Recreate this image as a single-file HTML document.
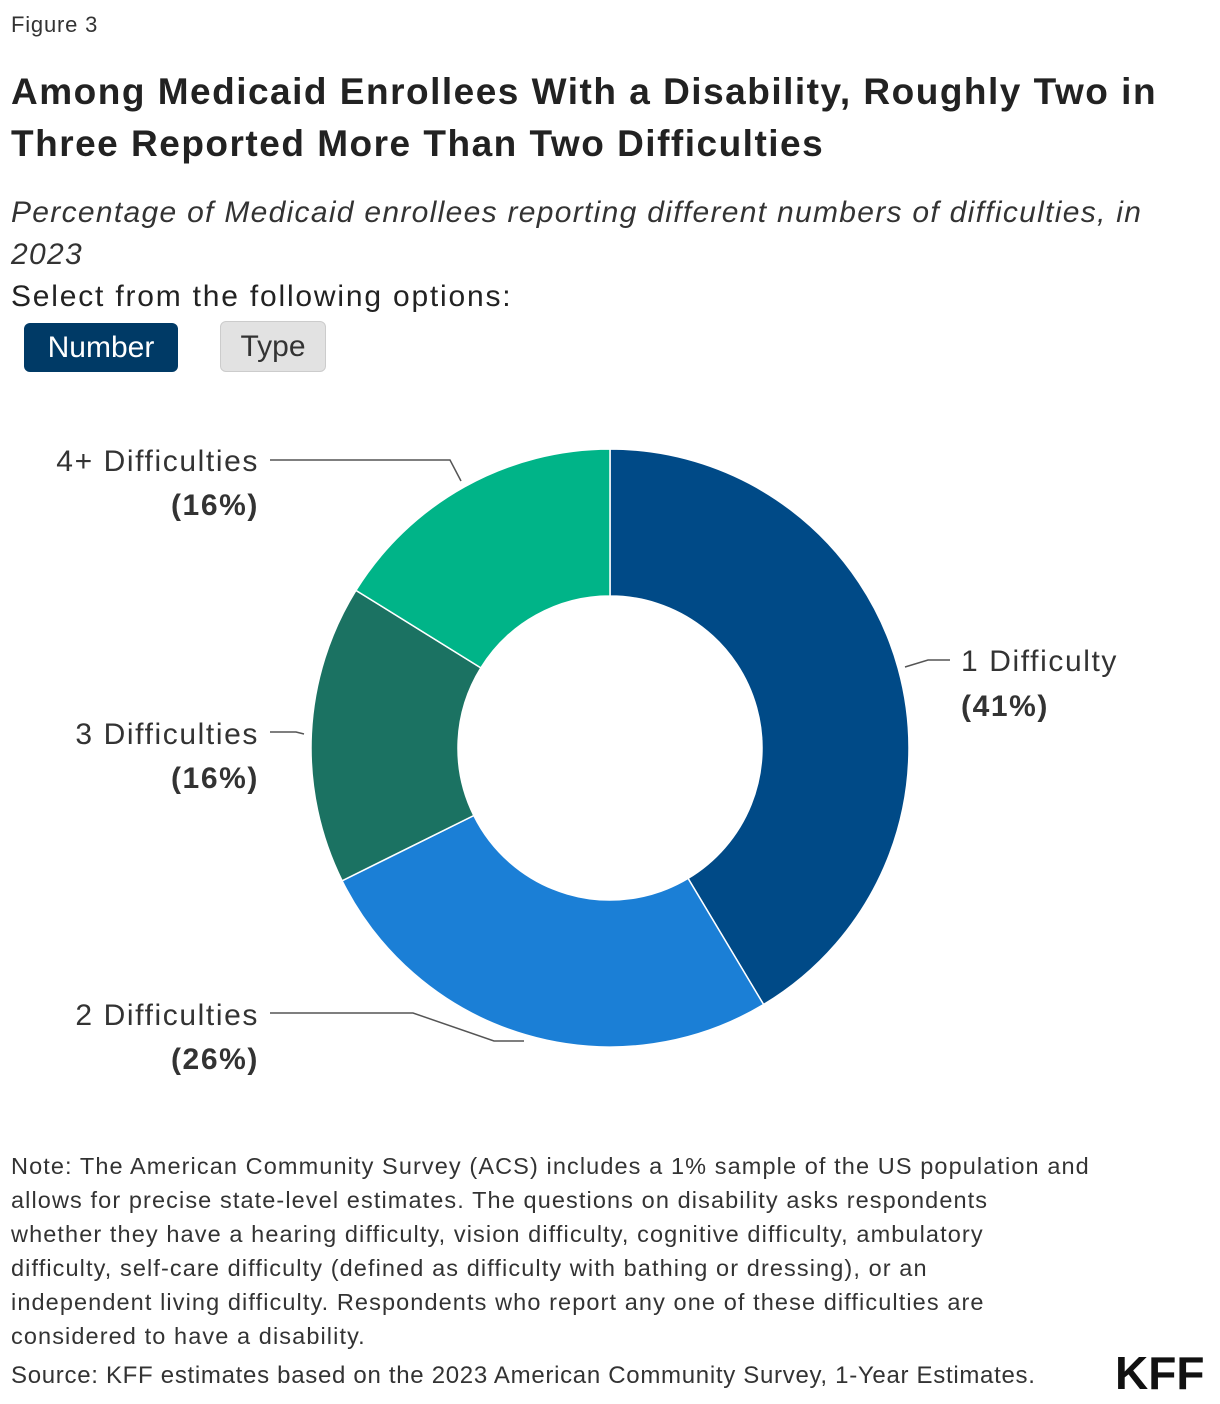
<!DOCTYPE html>
<html><head><meta charset="utf-8">
<style>
body{margin:0;width:1220px;height:1404px;background:#fff;font-family:"Liberation Sans",sans-serif;color:#222;position:relative;overflow:hidden}
.abs{position:absolute;white-space:nowrap}
</style></head><body>
<div class="abs" style="left:11px;top:12px;font-size:22px;color:#333;letter-spacing:0.8px">Figure 3</div>
<div class="abs" style="left:11px;top:66px;font-size:37px;font-weight:bold;line-height:52px;letter-spacing:1.5px">Among Medicaid Enrollees With a Disability, Roughly Two in<br>Three Reported More Than Two Difficulties</div>
<div class="abs" style="left:11px;top:192px;font-size:30px;font-style:italic;line-height:42px;color:#333;letter-spacing:1.3px">Percentage of Medicaid enrollees reporting different numbers of difficulties, in<br>2023</div>
<div class="abs" style="left:11px;top:280px;font-size:30px;color:#222;letter-spacing:1.8px">Select from the following options:</div>
<div class="abs" style="left:24px;top:323px;width:154px;height:49px;background:#003a66;border-radius:6px;color:#fff;font-size:30px;line-height:49px;text-align:center">Number</div>
<div class="abs" style="left:220px;top:321px;width:106px;height:51px;background:#e2e2e2;border:1px solid #ccc;box-sizing:border-box;border-radius:6px;color:#333;font-size:30px;line-height:49px;text-align:center">Type</div>
<svg class="abs" style="left:0;top:0" width="1220" height="1404">
<g id="slices"></g>
<g fill="none" stroke="#555" stroke-width="1.5">
<polyline points="270,460 450,460 461,481"/>
<polyline points="950,660 928,660 905,667"/>
<polyline points="270,732 296,732 304,734"/>
<polyline points="270,1013 413,1013 494,1041 524,1041"/>
</g>
<g font-size="30" fill="#333" font-family="Liberation Sans,sans-serif" letter-spacing="1.6">
<text x="259" y="471" text-anchor="end">4+ Difficulties</text>
<text x="259" y="515" text-anchor="end" font-weight="bold">(16%)</text>
<text x="961" y="671">1 Difficulty</text>
<text x="961" y="716" font-weight="bold">(41%)</text>
<text x="259" y="744" text-anchor="end">3 Difficulties</text>
<text x="259" y="788" text-anchor="end" font-weight="bold">(16%)</text>
<text x="259" y="1025" text-anchor="end">2 Difficulties</text>
<text x="259" y="1069" text-anchor="end" font-weight="bold">(26%)</text>
</g>
</svg>
<div class="abs" style="left:11px;top:1149px;font-size:23.5px;line-height:34px;color:#333;letter-spacing:1.1px">Note: The American Community Survey (ACS) includes a 1% sample of the US population and<br>allows for precise state-level estimates. The questions on disability asks respondents<br>whether they have a hearing difficulty, vision difficulty, cognitive difficulty, ambulatory<br>difficulty, self-care difficulty (defined as difficulty with bathing or dressing), or an<br>independent living difficulty. Respondents who report any one of these difficulties are<br>considered to have a disability.</div>
<div class="abs" style="left:11px;top:1362px;font-size:24px;color:#333;letter-spacing:0.7px">Source: KFF estimates based on the 2023 American Community Survey, 1-Year Estimates.</div>
<div class="abs" style="left:1115px;top:1346px;font-size:46px;font-weight:bold;color:#111;letter-spacing:0px">KFF</div>
<script>
const categories=["1 Difficulty","2 Difficulties","3 Difficulties","4+ Difficulties"];
const values=[41,26,16,16];
const colors=["#004a87","#1b7fd6","#1b7262","#00b488"];
const cx=610,cy=748,R=299,r=152;
const total=values.reduce((a,b)=>a+b,0);
const g=document.getElementById('slices');
let a0=0;
function pt(rad,ang){return [cx+rad*Math.sin(ang),cy-rad*Math.cos(ang)];}
values.forEach((v,i)=>{
  const a1=a0+v/total*2*Math.PI;
  const large=(a1-a0)>Math.PI?1:0;
  const [x1,y1]=pt(R,a0),[x2,y2]=pt(R,a1),[x3,y3]=pt(r,a1),[x4,y4]=pt(r,a0);
  const p=document.createElementNS('http://www.w3.org/2000/svg','path');
  p.setAttribute('d',`M${x1},${y1}A${R},${R} 0 ${large} 1 ${x2},${y2}L${x3},${y3}A${r},${r} 0 ${large} 0 ${x4},${y4}Z`);
  p.setAttribute('fill',colors[i]);
  p.setAttribute('stroke','#fff');
  p.setAttribute('stroke-width','1.5');
  
  
  g.appendChild(p);
  a0=a1;
});
</script>
</body></html>
